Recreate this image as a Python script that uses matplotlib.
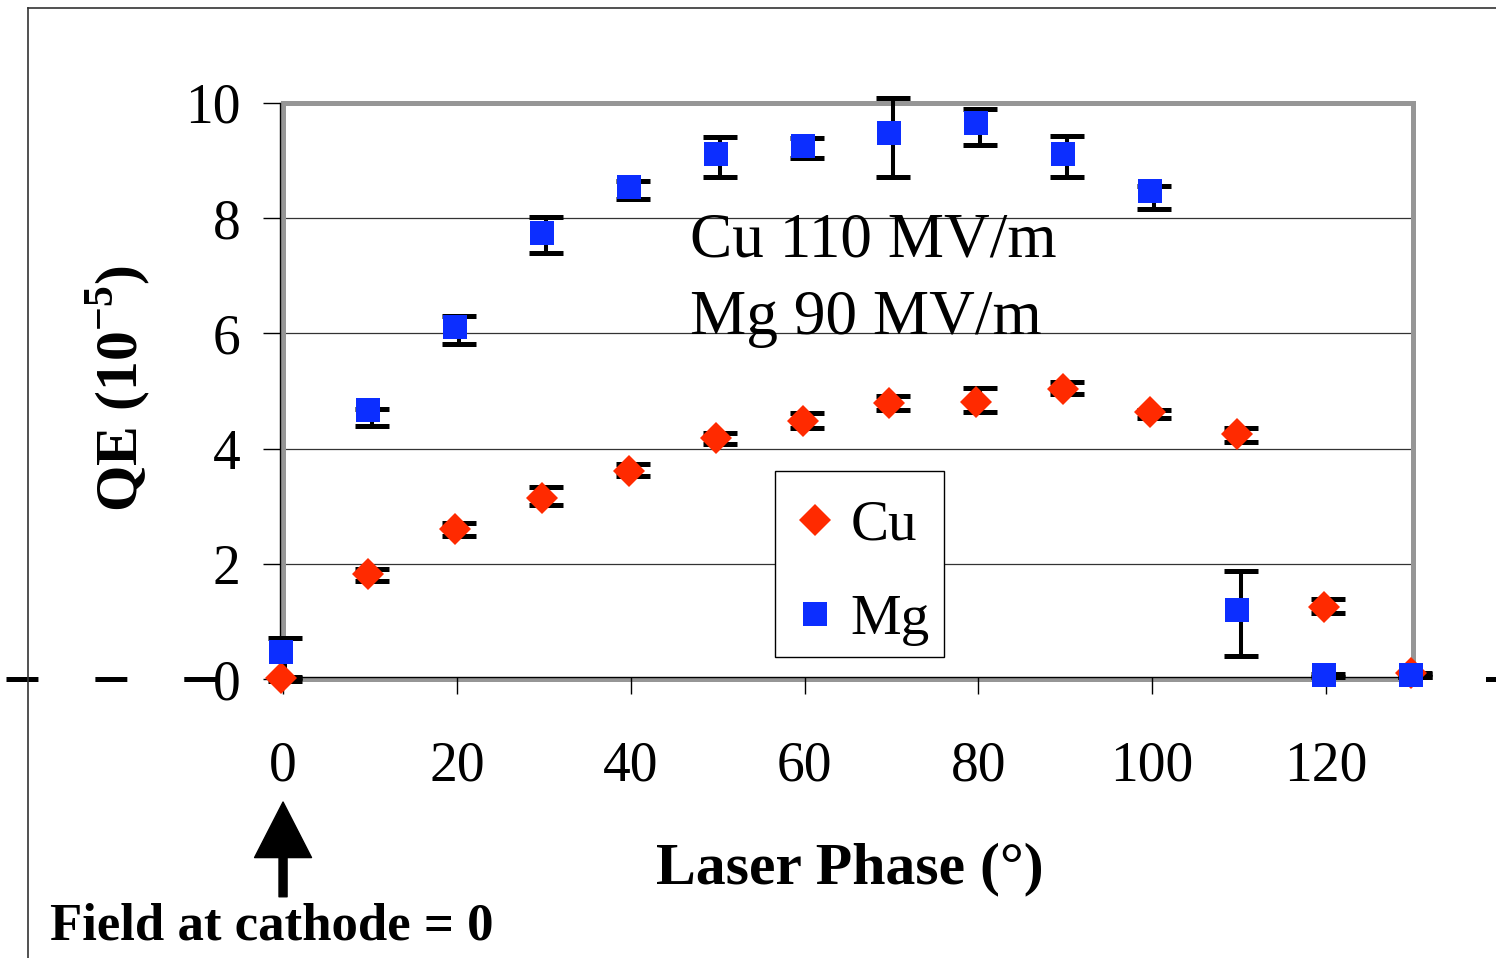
import matplotlib
matplotlib.use("Agg")

import numpy as np
from matplotlib import pyplot as plt
from matplotlib.lines import Line2D
from matplotlib.patches import Rectangle
from matplotlib.transforms import ScaledTranslation

plt.rcParams['font.family'] = ['Liberation Serif', 'DejaVu Serif']
plt.rcParams['mathtext.fontset'] = 'custom'
plt.rcParams['mathtext.rm'] = 'Liberation Serif'
plt.rcParams['mathtext.bf'] = 'Liberation Serif:bold'
plt.rcParams['lines.scale_dashes'] = False

# laser phase (deg)
phase = [0, 10, 20, 30, 40, 50, 60, 70, 80, 90, 100, 110, 120, 130]

# Cu QE (1e-5) with lower / upper errors
cu_qe = [0.00, 1.80, 2.59, 3.13, 3.60, 4.16, 4.47, 4.77, 4.79, 5.02, 4.62, 4.24, 1.24, 0.08]
cu_lo = [0.03, 0.10, 0.10, 0.11, 0.08, 0.08, 0.11, 0.10, 0.15, 0.07, 0.09, 0.12, 0.09, 0.05]
cu_hi = [0.03, 0.11, 0.12, 0.20, 0.13, 0.11, 0.15, 0.14, 0.26, 0.14, 0.05, 0.12, 0.15, 0.02]

# Mg QE (1e-5) with lower / upper errors
mg_qe = [0.46, 4.65, 6.10, 7.73, 8.53, 9.09, 9.24, 9.47, 9.64, 9.09, 8.45, 1.18, 0.06, 0.06]
mg_lo = [0.44, 0.25, 0.28, 0.34, 0.20, 0.37, 0.19, 0.75, 0.37, 0.37, 0.29, 0.78, 0.03, 0.03]
mg_hi = [0.25, 0.03, 0.21, 0.29, 0.12, 0.32, 0.15, 0.62, 0.26, 0.34, 0.11, 0.70, 0.02, 0.02]

x_ticks = [0, 20, 40, 60, 80, 100, 120]
y_ticks = [0, 2, 4, 6, 8, 10]

CU_COLOR = '#FF2A00'
MG_COLOR = '#0C2EFF'
FRAME_GRAY = '#969696'

fig = plt.figure(figsize=(14.96, 9.58), dpi=100)
ax = fig.add_axes([0.1892, 0.2912, 0.7553, 0.6013])

ax.set_xlim(0, 130)
ax.set_ylim(0, 10)

# outer frame of the picture (left and top edges)
fig.add_artist(Line2D([28 / 1496, 28 / 1496], [0, 1 - 8 / 958], color='#333333', lw=1.2))
fig.add_artist(Line2D([28 / 1496, 1], [1 - 8 / 958, 1 - 8 / 958], color='#333333', lw=1.2))

# gridlines
for v in y_ticks[1:-1]:
    ax.axhline(v, color='#333333', lw=0.9, zorder=1)

# gray plot-area frame
ax.add_patch(Rectangle((0, 0), 1, 1, transform=ax.transAxes, fill=False,
                       ec=FRAME_GRAY, lw=3.6, clip_on=False, zorder=1.5))

for s in ['top', 'right']:
    ax.spines[s].set_visible(False)
ax.spines['left'].set_color('black')
ax.spines['left'].set_linewidth(1.0)
ax.spines['left'].set_position(('outward', 2.5))
ax.spines['bottom'].set_color('black')
ax.spines['bottom'].set_linewidth(1.0)
ax.spines['bottom'].set_position(('outward', -1.8))
ax.spines['left'].set_zorder(1.6)
ax.spines['bottom'].set_zorder(1.6)

# error bars sit a few pixels right of the markers in the original
eb_shift = ax.transData + ScaledTranslation(2 / 100, 0, fig.dpi_scale_trans)
mk_shift = ax.transData + ScaledTranslation(-2 / 100, 1 / 100, fig.dpi_scale_trans)
eb_kw = dict(fmt='none', ecolor='black', elinewidth=2.9, capsize=12, capthick=3.6,
             transform=eb_shift, clip_on=False, zorder=2)
ax.errorbar(phase, cu_qe, yerr=[cu_lo, cu_hi], **eb_kw)
ax.errorbar(phase, mg_qe, yerr=[mg_lo, mg_hi], **eb_kw)

cu_line, = ax.plot(phase, cu_qe, ls='none', marker='D', ms=16.3, mew=0,
                   color=CU_COLOR, clip_on=False, zorder=3, label='Cu',
                   transform=mk_shift)
mg_line, = ax.plot(phase, mg_qe, ls='none', marker='s', ms=17.3, mew=0,
                   color=MG_COLOR, clip_on=False, zorder=3, label='Mg',
                   transform=mk_shift)

ax.set_xticks(x_ticks)
ax.set_yticks(y_ticks)
ax.tick_params(axis='y', direction='out', length=12, width=1, pad=16, labelsize=40)
ax.tick_params(axis='x', direction='out', length=12, width=1, pad=34, labelsize=40)

ax.set_xlabel('Laser Phase (°)', fontsize=43, fontweight='bold')
ax.xaxis.set_label_coords(0.502, -0.283)
ax.set_ylabel(r'QE (10$^{\mathbf{-5}}$)', fontsize=43, fontweight='bold')
ax.yaxis.set_label_coords(-0.115, 0.505)

ax.text(0.360, 0.733, 'Cu 110 MV/m', transform=ax.transAxes, fontsize=45.5,
        ha='left', va='baseline', zorder=4)
ax.text(0.360, 0.599, 'Mg 90 MV/m', transform=ax.transAxes, fontsize=45.5,
        ha='left', va='baseline', zorder=4)

# legend box drawn by hand so its size matches the original
ax.add_patch(Rectangle((0.4354, 0.0382), 0.1496, 0.3229, transform=ax.transAxes,
                       fc='white', ec='black', lw=1.0, zorder=4.9))
leg = ax.legend(handles=[cu_line, mg_line], loc='upper left',
                bbox_to_anchor=(0.4354, 0.361), borderaxespad=0, fontsize=41,
                frameon=False, borderpad=0.5, handlelength=0.4,
                handletextpad=0.42, labelspacing=0.75)
leg.set_zorder(5)

# dashed zero line outside the plot area
ax.add_line(Line2D([(6 - 283) / 1130, 0], [0, 0], transform=ax.transAxes,
                   color='black', lw=3.6, dashes=(23, 41), clip_on=False, zorder=0.5))
ax.add_line(Line2D([(1488 - 283) / 1130, (1496 - 283) / 1130], [0, 0],
                   transform=ax.transAxes, color='black', lw=3.6, clip_on=False))

# arrow marking zero field at the cathode
ax.annotate('', xy=(0, -0.2135), xycoords=('data', 'axes fraction'),
            xytext=(0, -0.378), textcoords=('data', 'axes fraction'),
            arrowprops=dict(facecolor='black', edgecolor='black', width=5.8,
                            headwidth=41, headlength=40, shrink=0))

fig.text(50 / 1496, 1 - 940 / 958, 'Field at cathode = 0', fontsize=38,
         fontweight='bold', ha='left', va='baseline')

fig.savefig('out.png', dpi=100)
